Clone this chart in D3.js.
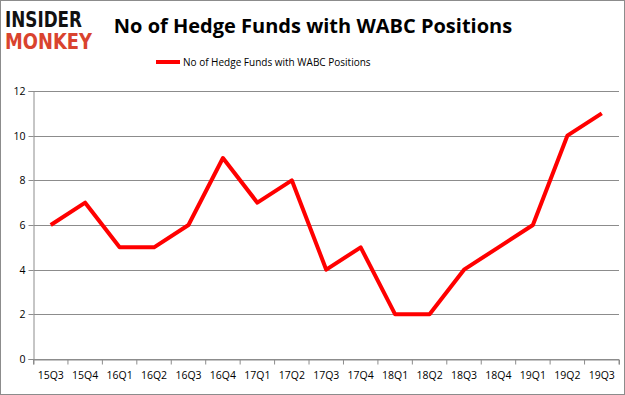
<!DOCTYPE html>
<html>
<head>
<meta charset="utf-8">
<script src="https://cdn.jsdelivr.net/npm/d3@7"></script>
<style>
  body { margin: 0; background: #fff; }
  svg { display: block; font-family: "Open Sans", "Noto Sans", sans-serif; }
</style>
</head>
<body>
<svg width="625" height="395"></svg>
<script>
// data
const quarters = ["15Q3", "15Q4", "16Q1", "16Q2", "16Q3", "16Q4", "17Q1", "17Q2", "17Q3",
  "17Q4", "18Q1", "18Q2", "18Q3", "18Q4", "19Q1", "19Q2", "19Q3"];
const funds = [6, 7, 5, 5, 6, 9, 7, 8, 4, 5, 2, 2, 4, 5, 6, 10, 11];
const yTicks = [0, 2, 4, 6, 8, 10, 12];
const seriesName = "No of Hedge Funds with WABC Positions";

const svg = d3.select("svg"),
  width = +svg.attr("width"),
  height = +svg.attr("height");

const margin = { top: 91, right: 6, bottom: 36, left: 33.5 };

// outer frame
svg.append("rect")
  .attr("x", 0.5).attr("y", 0.5)
  .attr("width", width - 1).attr("height", height - 1)
  .attr("fill", "#fff").attr("stroke", "#8c8c8c");

const x = d3.scaleBand()
  .domain(quarters)
  .range([margin.left, width - margin.right]);

const y = d3.scaleLinear()
  .domain([0, 12])
  .range([height - margin.bottom, margin.top]);

// gridlines
svg.append("g")
  .selectAll("line")
  .data(yTicks)
  .enter()
  .append("line")
  .attr("x1", margin.left)
  .attr("x2", width - margin.right)
  .attr("y1", d => Math.round(y(d)) + 0.5)
  .attr("y2", d => Math.round(y(d)) + 0.5)
  .attr("stroke", "#8c8c8c");

// y axis
const yAxis = svg.append("g")
  .attr("transform", `translate(${margin.left},0)`)
  .call(d3.axisLeft(y).tickValues(yTicks).tickSize(5).tickPadding(3));
yAxis.select(".domain").attr("stroke", "#8c8c8c");
yAxis.selectAll(".tick line").attr("stroke", "#8c8c8c");
yAxis.selectAll(".tick").attr("transform", d => `translate(0,${Math.round(y(d)) + 0.5})`);
yAxis.selectAll("text").attr("font-size", 10.5).attr("fill", "#000")
  .attr("font-family", "Open Sans, sans-serif");

// x axis
const xAxis = svg.append("g")
  .attr("transform", `translate(0,${Math.round(y(0)) + 0.5})`)
  .call(d3.axisBottom(x).tickSize(5).tickPadding(7));
xAxis.select(".domain").attr("stroke", "#8c8c8c");
xAxis.selectAll(".tick line")
  .attr("stroke", "#8c8c8c")
  .attr("transform", `translate(${-x.bandwidth() / 2},0)`);
xAxis.append("line")
  .attr("x1", width - margin.right).attr("x2", width - margin.right)
  .attr("y1", 0).attr("y2", 5).attr("stroke", "#8c8c8c");
xAxis.selectAll("text").attr("font-size", 10.5).attr("fill", "#000")
  .attr("font-family", "Open Sans, sans-serif");

// the line
const line = d3.line()
  .x((d, i) => x(quarters[i]) + x.bandwidth() / 2)
  .y(d => y(d));

svg.append("path")
  .datum(funds)
  .attr("d", line)
  .attr("fill", "none")
  .attr("stroke", "#ff0000")
  .attr("stroke-width", 4)
  .attr("stroke-linejoin", "round");

// title
svg.append("text")
  .attr("x", 313).attr("y", 33)
  .attr("text-anchor", "middle")
  .attr("font-size", 20)
  .attr("font-weight", "bold")
  .attr("font-family", "Open Sans, sans-serif")
  .text("No of Hedge Funds with WABC Positions");

// legend
svg.append("line")
  .attr("x1", 156).attr("x2", 180)
  .attr("y1", 62).attr("y2", 62)
  .attr("stroke", "#ff0000").attr("stroke-width", 4);
svg.append("text")
  .attr("x", 183).attr("y", 66)
  .attr("font-size", 10)
  .attr("font-family", "Open Sans, sans-serif")
  .text(seriesName);

// logo
const logo = svg.append("g").attr("font-family", "DejaVu Sans, sans-serif")
  .attr("font-weight", "bold");
logo.append("text")
  .attr("x", 5).attr("y", 27)
  .attr("font-size", 21)
  .attr("textLength", 77).attr("lengthAdjust", "spacingAndGlyphs")
  .attr("fill", "#111")
  .text("INSIDER");
logo.append("text")
  .attr("x", 5).attr("y", 49)
  .attr("font-size", 21)
  .attr("textLength", 87).attr("lengthAdjust", "spacingAndGlyphs")
  .attr("fill", "#d9432e")
  .text("MONKEY");
</script>
</body>
</html>
